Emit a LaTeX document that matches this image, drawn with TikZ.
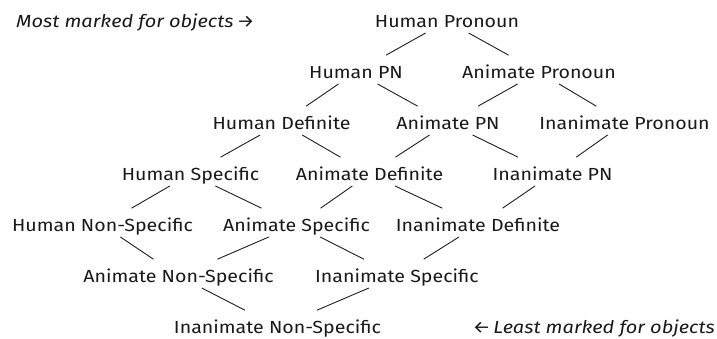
\documentclass[tikz,border=0pt]{standalone}
\usepackage{fontspec}
\setmainfont{Fira Sans}[FakeStretch=1.12]
\newfontfamily\notefont{Fira Sans}[FakeStretch=1.14]
\usetikzlibrary{calc}
\tikzset{
  term/.style={inner sep=0pt, text height=12pt, text depth=0pt,
    font=\fontsize{17.5pt}{20pt}\selectfont, text=black!90},
  note/.style={inner sep=0pt, text height=12pt, text depth=0pt,
    font=\notefont\fontsize{17.5pt}{20pt}\selectfont\itshape, text=black!90},
  link/.style={draw=black!88, line width=0.9pt,
    to path={($(\tikztostart.center)!0.235!(\tikztotarget.center)$)
      -- ($(\tikztostart.center)!0.67!(\tikztotarget.center)$)}}
}
\begin{document}
\begin{tikzpicture}[x=1pt, y=-1pt]
\useasboundingbox (0,0) rectangle (717,338);
% lattice of object types, most marked at the top
\node[term] (HPro)  at (447,21)   {Human Pronoun};
\node[term] (HPN)   at (356,72)   {Human PN};
\node[term] (APro)  at (539,72)   {Animate Pronoun};
\node[term] (HDef)  at (281.5,123){Human Definite};
\node[term] (APN)   at (448,123)  {Animate PN};
\node[term] (IPro)  at (624.5,123){Inanimate Pronoun};
\node[term] (HSpec) at (190.5,174){Human Specific};
\node[term] (ADef)  at (369.5,174){Animate Definite};
\node[term] (IPN)   at (552.5,174){Inanimate PN};
\node[term] (HNS)   at (102.5,225){Human Non-Specific};
\node[term] (ASpec) at (296.5,225){Animate Specific};
\node[term] (IDef)  at (478,225)  {Inanimate Definite};
\node[term] (ANS)   at (178.5,276){Animate Non-Specific};
\node[term] (ISpec) at (397,276)  {Inanimate Specific};
\node[term] (INS)   at (277.5,327){Inanimate Non-Specific};
% scale labels
\node[note, anchor=west] (most)  at (16,21)  {Most marked for objects\kern3pt→};
\node[note, anchor=east] (least) at (715,327){←\kern3pt Least marked for objects};
% ordering links
\path[link] (HPro) to (HPN);
\path[link] (HPro) to (APro);
\path[link] (HPN) to (HDef);
\path[link] (HPN) to (APN);
\path[link] (APro) to (APN);
\path[link] (APro) to (IPro);
\path[link] (HDef) to (HSpec);
\path[link] (HDef) to (ADef);
\path[link] (APN) to (ADef);
\path[link] (APN) to (IPN);
\path[link] (IPro) to (IPN);
\path[link] (HSpec) to (HNS);
\path[link] (HSpec) to (ASpec);
\path[link] (ADef) to (ASpec);
\path[link] (ADef) to (IDef);
\path[link] (IPN) to (IDef);
\path[link] (HNS) to (ANS);
\path[link] (ASpec) to (ANS);
\path[link] (ASpec) to (ISpec);
\path[link] (IDef) to (ISpec);
\path[link] (ANS) to (INS);
\path[link] (ISpec) to (INS);
\end{tikzpicture}
\end{document}
